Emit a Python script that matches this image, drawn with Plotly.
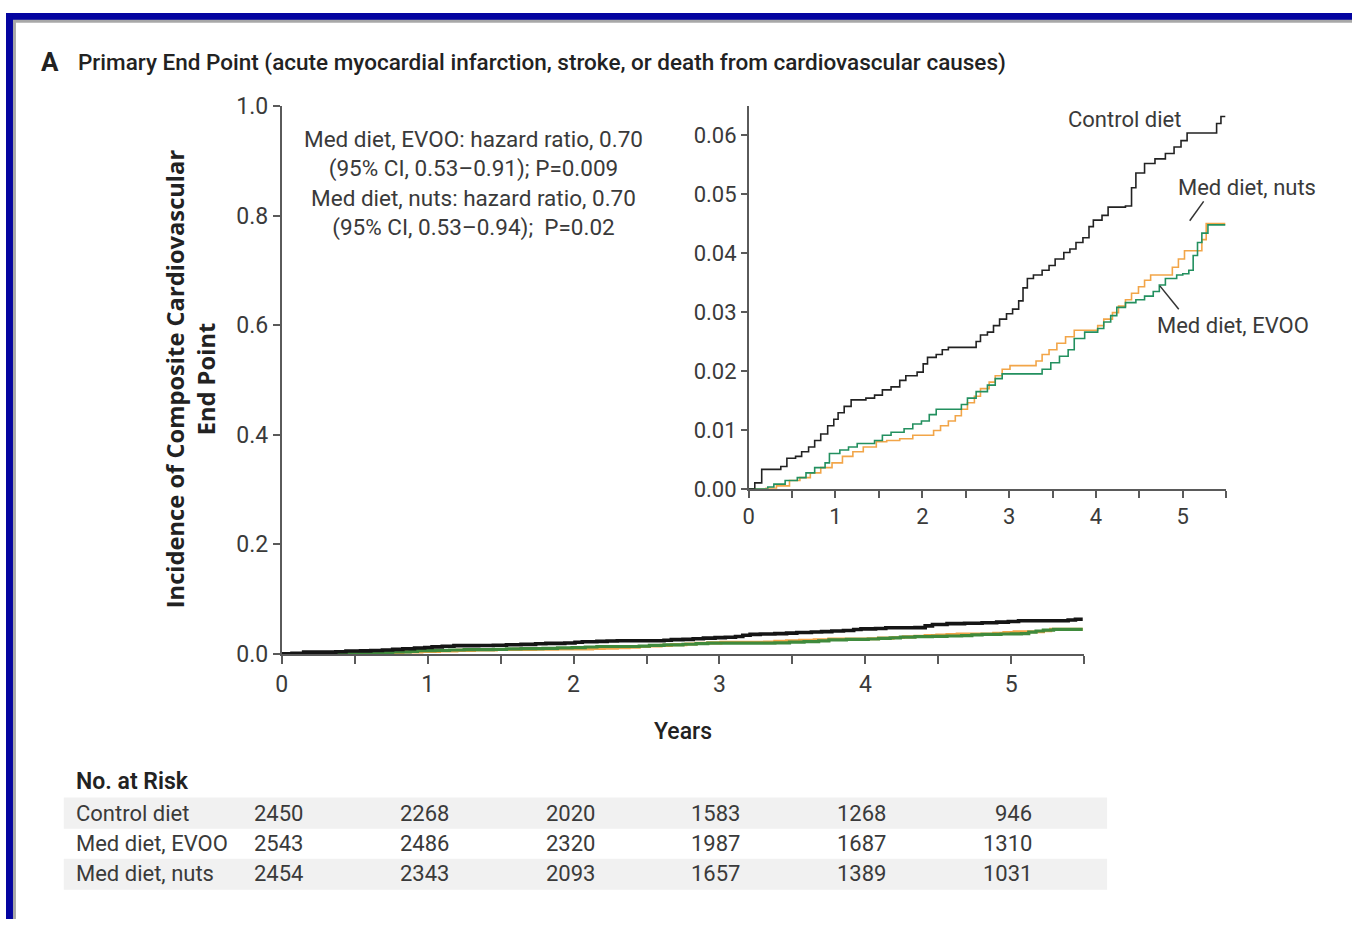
import plotly.graph_objects as go

W, H = 1352, 933

# ---------------- data ----------------
control_t = [0, 0.07, 0.15, 0.37, 0.44, 0.54, 0.61, 0.69, 0.76, 0.83, 0.91, 0.98, 1.03, 1.10, 1.18,
             1.35, 1.45, 1.54, 1.64, 1.74, 1.81, 1.94, 2.01, 2.06, 2.16, 2.23, 2.30, 2.62, 2.67, 2.75,
             2.82, 2.89, 2.97, 3.04, 3.11, 3.16, 3.21, 3.28, 3.38, 3.46, 3.53, 3.63, 3.70, 3.77, 3.85,
             3.92, 3.97, 4.07, 4.14, 4.34, 4.41, 4.46, 4.56, 4.68, 4.80, 4.90, 4.98, 5.05, 5.39, 5.44, 5.49]
control_v = [0, 0.0010, 0.0033, 0.0038, 0.0052, 0.0055, 0.0063, 0.0071, 0.0082, 0.0093, 0.0107, 0.0118,
             0.0129, 0.0140, 0.0151, 0.0154, 0.0159, 0.0168, 0.0173, 0.0184, 0.0192, 0.0198, 0.0212,
             0.0223, 0.0228, 0.0236, 0.0240, 0.0250, 0.0261, 0.0266, 0.0277, 0.0288, 0.0297, 0.0305,
             0.0319, 0.0341, 0.0357, 0.0363, 0.0371, 0.0379, 0.0390, 0.0401, 0.0407, 0.0418, 0.0426,
             0.0445, 0.0456, 0.0464, 0.0478, 0.0480, 0.0511, 0.0536, 0.0552, 0.0560, 0.0569, 0.0580,
             0.0591, 0.0604, 0.0620, 0.0632, 0.0632]

evoo_t = [0, 0.22, 0.29, 0.42, 0.56, 0.66, 0.76, 0.88, 0.93, 1.05, 1.15, 1.25, 1.45, 1.54, 1.64, 1.79,
          1.89, 1.99, 2.08, 2.16, 2.45, 2.52, 2.62, 2.75, 2.84, 2.92, 3.38, 3.48, 3.58, 3.68, 3.75,
          3.87, 4.02, 4.09, 4.17, 4.24, 4.34, 4.46, 4.56, 4.66, 4.73, 4.80, 4.93, 5.00, 5.07, 5.12,
          5.17, 5.22, 5.29, 5.49]
evoo_v = [0, 0.0003, 0.0008, 0.0014, 0.0019, 0.0027, 0.0036, 0.0044, 0.0060, 0.0066, 0.0071, 0.0077,
          0.0082, 0.0091, 0.0096, 0.0102, 0.0110, 0.0115, 0.0126, 0.0135, 0.0143, 0.0154, 0.0165,
          0.0176, 0.0187, 0.0195, 0.0203, 0.0214, 0.0225, 0.0236, 0.0255, 0.0266, 0.0272, 0.0283,
          0.0294, 0.0308, 0.0316, 0.0321, 0.0327, 0.0335, 0.0346, 0.0357, 0.0363, 0.0365, 0.0371,
          0.0396, 0.0418, 0.0434, 0.0448, 0.0448]

nuts_t = [0, 0.20, 0.32, 0.47, 0.59, 0.71, 0.83, 0.96, 1.08, 1.20, 1.32, 1.47, 1.59, 1.74, 1.89, 2.13,
          2.21, 2.30, 2.38, 2.45, 2.52, 2.60, 2.67, 2.77, 2.84, 2.92, 3.01, 3.31, 3.38, 3.46, 3.55,
          3.65, 3.75, 4.02, 4.09, 4.19, 4.26, 4.34, 4.41, 4.49, 4.56, 4.63, 4.88, 4.95, 5.02, 5.22,
          5.27, 5.49]
nuts_v = [0, 0.0001, 0.0005, 0.0014, 0.0019, 0.0027, 0.0036, 0.0044, 0.0055, 0.0063, 0.0071, 0.0080,
          0.0082, 0.0085, 0.0091, 0.0099, 0.0107, 0.0115, 0.0124, 0.0135, 0.0146, 0.0157, 0.0170,
          0.0181, 0.0192, 0.0203, 0.0209, 0.0217, 0.0228, 0.0236, 0.0247, 0.0258, 0.0269, 0.0277,
          0.0288, 0.0299, 0.0310, 0.0321, 0.0332, 0.0343, 0.0354, 0.0363, 0.0376, 0.0390, 0.0404,
          0.0423, 0.0450, 0.0450]

groups = ["Control diet", "Med diet, EVOO", "Med diet, nuts"]
risk_years = [0, 1, 2, 3, 4, 5]
risk_control = [2450, 2268, 2020, 1583, 1268, 946]
risk_evoo = [2543, 2486, 2320, 1987, 1687, 1310]
risk_nuts = [2454, 2343, 2093, 1657, 1389, 1031]

x_tickvals = [0, 0.5, 1, 1.5, 2, 2.5, 3, 3.5, 4, 4.5, 5, 5.5]
x_ticktext = ["0", "", "1", "", "2", "", "3", "", "4", "", "5", ""]
main_y_ticks = [0.0, 0.2, 0.4, 0.6, 0.8, 1.0]
inset_y_ticks = [0.00, 0.01, 0.02, 0.03, 0.04, 0.05, 0.06]

hr_text = ("Med diet, EVOO: hazard ratio, 0.70<br>(95% CI, 0.53\u20130.91); P=0.009<br>"
           "Med diet, nuts: hazard ratio, 0.70<br>(95% CI, 0.53\u20130.94);  P=0.02")
title_text = "Primary End Point (acute myocardial infarction, stroke, or death from cardiovascular causes)"

# ---------------- style ----------------
COND = "Roboto, Lato, sans-serif"
C_BLACK = "#151515"
C_GREEN = "#23905f"
C_ORANGE = "#f2a548"
AX = "#5a5a5a"
TXT = "#3a3a3a"


def px(x):
    return x / W


def py(y):
    return 1 - y / H


fig = go.Figure()

main_specs = [(nuts_t, nuts_v, C_ORANGE, 3.2, groups[2]),
              (evoo_t, evoo_v, "#3f8a3c", 3.2, groups[1]),
              (control_t, control_v, C_BLACK, 3.6, groups[0])]
for t, v, c, w, n in main_specs:
    fig.add_trace(go.Scatter(x=t, y=v, mode="lines", line=dict(color=c, width=w, shape="hv"),
                             name=n, showlegend=False, xaxis="x", yaxis="y", hoverinfo="skip"))

inset_specs = [(nuts_t, nuts_v, C_ORANGE, 1.6, groups[2]),
               (evoo_t, evoo_v, C_GREEN, 1.6, groups[1]),
               (control_t, control_v, "#222222", 1.6, groups[0])]
for t, v, c, w, n in inset_specs:
    fig.add_trace(go.Scatter(x=t, y=v, mode="lines", line=dict(color=c, width=w, shape="hv"),
                             name=n, showlegend=False, xaxis="x2", yaxis="y2", hoverinfo="skip"))

axis_common = dict(showgrid=False, zeroline=False, showline=True, linecolor=AX,
                   ticks="outside", tickcolor=AX, fixedrange=True)

fig.update_layout(
    width=W, height=H, margin=dict(l=0, r=0, t=0, b=0),
    paper_bgcolor="white", plot_bgcolor="rgba(0,0,0,0)",
    showlegend=False,
    xaxis=dict(domain=[px(277), px(1083)], range=[0, 5.5], anchor="y",
               tickvals=x_tickvals, ticktext=x_ticktext, ticklen=8, tickwidth=2, linewidth=2,
               tickfont=dict(family=COND, size=23, color=TXT),
               **axis_common),
    yaxis=dict(domain=[py(660), py(96)], range=[0, 1], anchor="x",
               tickvals=main_y_ticks, tickformat=".1f", ticklen=7, tickwidth=2, linewidth=2,
               tickfont=dict(family=COND, size=23, color=TXT),
               **axis_common),
    xaxis2=dict(domain=[px(746), px(1225.6)], range=[0, 5.5], anchor="y2",
                tickvals=x_tickvals, ticktext=x_ticktext, ticklen=7, tickwidth=1.5, linewidth=1.5,
                tickfont=dict(family=COND, size=22, color=TXT),
                **axis_common),
    yaxis2=dict(domain=[py(490), py(95.6)], range=[0, 0.065], anchor="x2",
                tickvals=inset_y_ticks, tickformat=".2f", ticklen=6, tickwidth=1.5, linewidth=1.5,
                tickfont=dict(family=COND, size=22, color=TXT),
                **axis_common),
)

ann = []
ann.append(dict(x=px(33), y=py(50), xref="paper", yref="paper", xanchor="left", yanchor="middle",
                text="<b>A</b>", showarrow=False, font=dict(family=COND, size=26, color="#222")))
ann.append(dict(x=px(70), y=py(51), xref="paper", yref="paper", xanchor="left", yanchor="middle",
                text=title_text, showarrow=False, font=dict(family=COND, size=22.5, color="#222", weight=500)))
ann.append(dict(x=px(185), y=py(377), xref="paper", yref="paper", xanchor="center", yanchor="middle",
                text="<b>Incidence of Composite Cardiovascular<br>End Point</b>", textangle=-90,
                showarrow=False, font=dict(family="Open Sans, sans-serif", size=23.7, color="#222")))
ann.append(dict(x=px(680), y=py(740), xref="paper", yref="paper", xanchor="center", yanchor="middle",
                text="Years", showarrow=False, font=dict(family=COND, size=23, color="#222", weight=500)))
ann.append(dict(x=px(470), y=py(176), xref="paper", yref="paper", xanchor="center", yanchor="middle",
                text=hr_text, showarrow=False, align="center",
                font=dict(family=COND, size=22.5, color=TXT)))
ann.append(dict(x=px(1123), y=py(110), xref="paper", yref="paper", xanchor="center", yanchor="middle",
                text="Control diet", showarrow=False, font=dict(family=COND, size=22, color=TXT)))
ann.append(dict(x=px(1247), y=py(180), xref="paper", yref="paper", xanchor="center", yanchor="middle",
                text="Med diet, nuts", showarrow=False, font=dict(family=COND, size=22, color=TXT)))
ann.append(dict(x=px(1232), y=py(322), xref="paper", yref="paper", xanchor="center", yanchor="middle",
                text="Med diet, EVOO", showarrow=False, font=dict(family=COND, size=22, color=TXT)))

ann.append(dict(x=px(68), y=py(791), xref="paper", yref="paper", xanchor="left", yanchor="middle",
                text="No. at Risk", showarrow=False, font=dict(family=COND, size=23, color="#222", weight=600)))
row_y = [824, 855, 886]
for name, vals, yy in zip(groups, [risk_control, risk_evoo, risk_nuts], row_y):
    ann.append(dict(x=px(68), y=py(yy), xref="paper", yref="paper", xanchor="left", yanchor="middle",
                    text=name, showarrow=False, font=dict(family=COND, size=22, color=TXT)))
    for yr, val in zip(risk_years, vals):
        ann.append(dict(x=yr, y=py(yy), xref="x", yref="paper", xanchor="right", yanchor="middle",
                        xshift=23, text=str(val), showarrow=False,
                        font=dict(family=COND, size=22, color=TXT)))

shapes = []
for y0, y1 in [(808, 840), (871, 903)]:
    shapes.append(dict(type="rect", xref="paper", yref="paper", x0=px(58), x1=px(1106),
                       y0=py(y1), y1=py(y0), fillcolor="#f1f1f1", line=dict(width=0), layer="below"))
shapes.append(dict(type="line", xref="paper", yref="paper", x0=px(1203), y0=py(194), x1=px(1189), y1=py(214),
                   line=dict(color="#333", width=1.5)))
shapes.append(dict(type="line", xref="paper", yref="paper", x0=px(1178), y0=py(305), x1=px(1159), y1=py(281),
                   line=dict(color="#333", width=1.5)))
# slide frame: blue band on top and left with a grey inner edge
shapes.append(dict(type="rect", xref="paper", yref="paper", x0=0, x1=1, y0=py(10), y1=1,
                   fillcolor="#a8a8a8", line=dict(width=0), layer="above"))
shapes.append(dict(type="rect", xref="paper", yref="paper", x0=0, x1=px(10), y0=0, y1=1,
                   fillcolor="#a8a8a8", line=dict(width=0), layer="above"))
shapes.append(dict(type="rect", xref="paper", yref="paper", x0=0, x1=1, y0=py(7), y1=1,
                   fillcolor="#0404a0", line=dict(width=0), layer="above"))
shapes.append(dict(type="rect", xref="paper", yref="paper", x0=0, x1=px(7), y0=0, y1=1,
                   fillcolor="#0404a0", line=dict(width=0), layer="above"))

fig.update_layout(annotations=ann, shapes=shapes)

fig.write_html("out.html")
